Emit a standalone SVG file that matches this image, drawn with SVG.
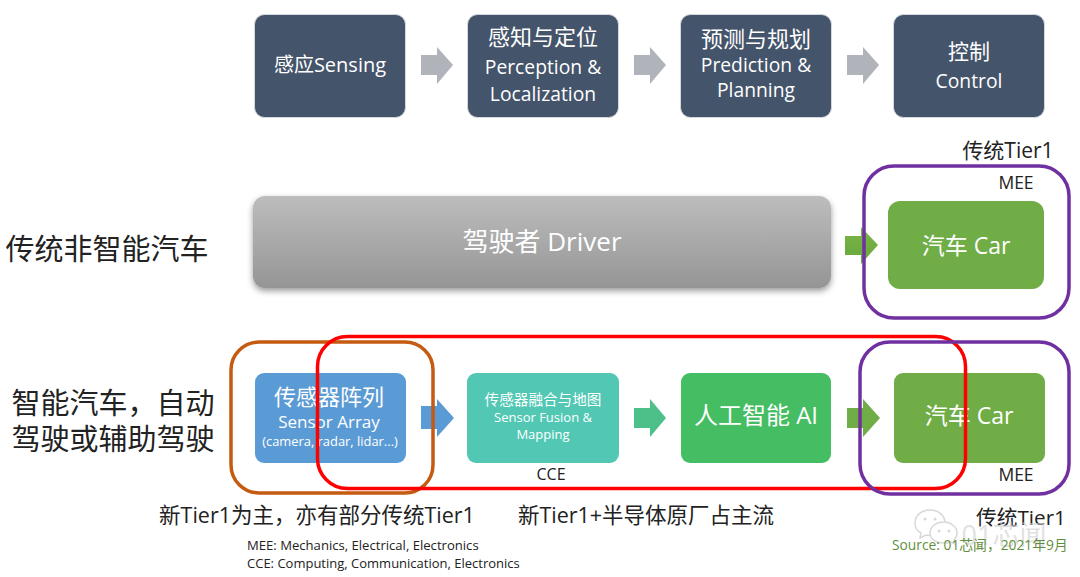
<svg xmlns="http://www.w3.org/2000/svg" width="1080" height="577" viewBox="0 0 1080 577">
<defs>
<linearGradient id="grey" x1="0" y1="0" x2="0" y2="1"><stop offset="0" stop-color="#bdbdbd"/><stop offset="1" stop-color="#959595"/></linearGradient>
<linearGradient id="garrow" x1="0" y1="0" x2="0" y2="1"><stop offset="0" stop-color="#7ab648"/><stop offset="1" stop-color="#66a63c"/></linearGradient>
<filter id="sh" x="-5%" y="-10%" width="110%" height="125%"><feDropShadow dx="0" dy="3" stdDeviation="3" flood-color="#000" flood-opacity="0.4"/></filter>
</defs>
<style>
text{font-family:"Open Sans","Noto Sans CJK SC",sans-serif;text-anchor:middle}
.w{fill:#fff}
.k{fill:#222}
.navy{fill:#44546a;stroke:#d5d8dc;stroke-width:1}
.ring{fill:none;stroke-width:3.5}
</style>
<rect width="1080" height="577" fill="#fff"/>
<g id="connectors">
<path d="M421 55H437V47L453 65L437 84V75H421Z" fill="#b0b4ba"/>
<path d="M634 55H650V47L666 65L650 84V75H634Z" fill="#b0b4ba"/>
<path d="M847 55H863V47L879 65L863 84V75H847Z" fill="#b0b4ba"/>
<path d="M845 236H861V227L878 245L861 264V255H845Z" fill="url(#garrow)"/>
<path d="M421 406H437V399L454 418L437 437V429H421Z" fill="#5b9bd5"/>
<path d="M634 408H650V399L666 418L650 437V428H634Z" fill="#4dc08a"/>
<path d="M847 408H863V399L880 418L863 437V428H847Z" fill="#70ad47"/>
</g>
<g id="n-sensing"><rect class="navy" x="254.500" y="14.500" width="151" height="103" rx="10"/><text class="w" x="330" y="72" font-size="20">感应Sensing</text></g>
<g id="n-perception"><rect class="navy" x="467.500" y="14.500" width="151" height="103" rx="10"/><text class="w" x="543" y="45" font-size="22">感知与定位</text><text class="w" x="543" y="74" font-size="19.300">Perception &amp;</text><text class="w" x="543" y="101" font-size="19.300">Localization</text></g>
<g id="n-prediction"><rect class="navy" x="680.500" y="14.500" width="151" height="103" rx="10"/><text class="w" x="756" y="47" font-size="22">预测与规划</text><text class="w" x="756" y="72" font-size="19.300">Prediction &amp;</text><text class="w" x="756" y="97" font-size="19.300">Planning</text></g>
<g id="n-control"><rect class="navy" x="893.500" y="14.500" width="151" height="103" rx="10"/><text class="w" x="969" y="59" font-size="21">控制</text><text class="w" x="969" y="88" font-size="19.300">Control</text></g>
<g id="n-driver"><rect x="253" y="196" width="578" height="92" rx="12" fill="url(#grey)" filter="url(#sh)"/><text class="w" x="542" y="251" font-size="26">驾驶者 Driver</text></g>
<g id="n-car1"><rect x="888" y="201" width="156" height="88" rx="12" fill="#70ad47"/><text class="w" x="966" y="254" font-size="23">汽车 Car</text></g>
<g id="n-sensor"><rect x="255" y="373" width="151" height="90" rx="9" fill="#5b9bd5"/><text class="w" x="329" y="405" font-size="22">传感器阵列</text><text class="w" x="329" y="428" font-size="17">Sensor Array</text><text class="w" x="330" y="446" font-size="12.900">(camera, radar, lidar...)</text></g>
<g id="n-fusion"><rect x="467" y="373" width="152" height="90" rx="9" fill="#52c8b4"/><text class="w" x="543" y="405" font-size="14.600">传感器融合与地图</text><text class="w" x="543" y="422" font-size="13">Sensor Fusion &amp;</text><text class="w" x="543" y="439" font-size="13">Mapping</text></g>
<g id="n-ai"><rect x="681" y="373" width="150" height="90" rx="9" fill="#45bd62"/><text class="w" x="756" y="424" font-size="24">人工智能 AI</text></g>
<g id="n-car2"><rect x="894" y="373" width="151" height="90" rx="9" fill="#70ad47"/><text class="w" x="969" y="424" font-size="23">汽车 Car</text></g>
<g id="n-ring-brown"><rect class="ring" x="231" y="342" width="202" height="151" rx="28" stroke="#c55a11"/></g>
<g id="n-ring-red"><rect class="ring" x="317.500" y="336.500" width="648" height="152" rx="30" stroke="#ff0000"/></g>
<g id="n-ring-purple1"><rect class="ring" x="864" y="166" width="205" height="152" rx="30" stroke="#7030a0"/></g>
<g id="n-ring-purple2"><rect class="ring" x="860" y="342" width="209" height="152" rx="30" stroke="#7030a0"/></g>
<g id="watermark" fill="#fff" stroke="#d8d8d8" stroke-width="1.500">
<path d="M930 510C921 510 915 516 915 523C915 527 917 531 921 533L920 538L926 535C934 537 945 530 945 523C945 516 939 510 930 510Z"/>
<path d="M944 522C936 522 930 527 930 533C930 539 936 543 944 543C947 543 949 543 951 542L955 544L954 540C956 538 957 536 957 533C957 527 951 522 944 522Z"/>
<circle cx="925" cy="519" r="1.500" fill="#d8d8d8" stroke="none"/><circle cx="935" cy="519" r="1.500" fill="#d8d8d8" stroke="none"/><circle cx="939" cy="531" r="1.500" fill="#d8d8d8" stroke="none"/><circle cx="949" cy="531" r="1.500" fill="#d8d8d8" stroke="none"/>
</g>
<g id="labels">
<text class="k" x="107" y="260" font-size="29">传统非智能汽车</text>
<text class="k" x="113" y="414" font-size="29">智能汽车，自动</text>
<text class="k" x="113" y="450" font-size="29">驾驶或辅助驾驶</text>
<text class="k" x="1008" y="158" font-size="21">传统Tier1</text>
<text class="k" x="1016" y="189" font-size="17.500">MEE</text>
<text class="k" x="1016" y="481" font-size="17.500">MEE</text>
<text class="k" x="551" y="480" font-size="16">CCE</text>
<text class="k" x="317" y="523" font-size="21.500">新Tier1为主，亦有部分传统Tier1</text>
<text class="k" x="646" y="523" font-size="21.500">新Tier1+半导体原厂占主流</text>
<text class="k" x="1021" y="525" font-size="20.700">传统Tier1</text>
<text class="k" x="247" y="550" font-size="13.100" style="text-anchor:start">MEE: Mechanics, Electrical, Electronics</text>
<text class="k" x="247" y="568" font-size="13" style="text-anchor:start">CCE: Computing, Communication, Electronics</text>
<text x="1004" y="545" font-size="27" fill="#d0d0d0" fill-opacity="0.65">01芯闻</text>
<text x="892" y="550" font-size="13.800" fill="#5f8f3e" style="text-anchor:start">Source: 01芯闻，2021年9月</text>
</g>
</svg>
